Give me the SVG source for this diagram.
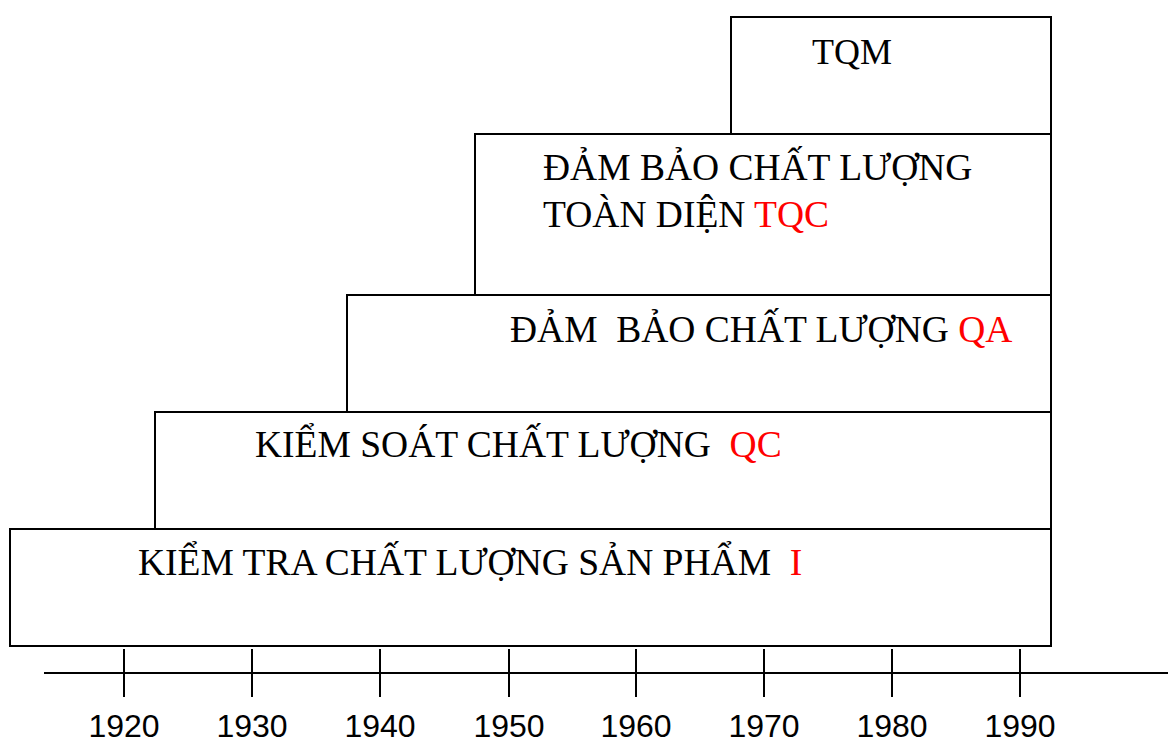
<svg xmlns="http://www.w3.org/2000/svg" width="1168" height="742" viewBox="0 0 1168 742">
  <style>
    .box { fill: #ffffff; stroke: #000000; stroke-width: 2; }
    .lbl { font-family: "Liberation Serif", "Times New Roman", serif; font-size: 37.5px; fill: #000000; }
    .red { fill: #ff0000; }
    .axis { stroke: #000000; stroke-width: 2; fill: none; }
    .year { font-family: "Liberation Sans", Arial, sans-serif; font-size: 32px; fill: #000000; text-anchor: middle; }
  </style>
  <rect width="1168" height="742" fill="#ffffff"/>

  <!-- stacked stages, oldest at the bottom -->
  <g id="stage-tqm">
    <rect class="box" x="731" y="17" width="320" height="117"/>
    <text class="lbl" x="812" y="64" style="font-size:36px">TQM</text>
  </g>
  <g id="stage-tqc">
    <rect class="box" x="475" y="134" width="576" height="161"/>
    <text class="lbl" x="543" y="180">ĐẢM BẢO CHẤT LƯỢNG</text>
    <text class="lbl" x="543" y="227">TOÀN DIỆN <tspan class="red">TQC</tspan></text>
  </g>
  <g id="stage-qa">
    <rect class="box" x="347" y="295" width="704" height="117"/>
    <text class="lbl" x="510" y="342" xml:space="preserve">ĐẢM  BẢO CHẤT LƯỢNG <tspan class="red">QA</tspan></text>
  </g>
  <g id="stage-qc">
    <rect class="box" x="155" y="412" width="896" height="117"/>
    <text class="lbl" x="255" y="457" xml:space="preserve">KIỂM SOÁT CHẤT LƯỢNG  <tspan class="red">QC</tspan></text>
  </g>
  <g id="stage-i">
    <rect class="box" x="10" y="529" width="1041" height="117"/>
    <text class="lbl" x="138" y="575" xml:space="preserve">KIỂM TRA CHẤT LƯỢNG SẢN PHẨM  <tspan class="red">I</tspan></text>
  </g>

  <!-- time axis -->
  <g id="axis">
    <line class="axis" x1="44" y1="673" x2="1168" y2="673"/>
    <line class="axis" x1="124" y1="649" x2="124" y2="697"/>
    <line class="axis" x1="252" y1="649" x2="252" y2="697"/>
    <line class="axis" x1="380" y1="649" x2="380" y2="697"/>
    <line class="axis" x1="509" y1="649" x2="509" y2="697"/>
    <line class="axis" x1="636" y1="649" x2="636" y2="697"/>
    <line class="axis" x1="764" y1="649" x2="764" y2="697"/>
    <line class="axis" x1="892" y1="649" x2="892" y2="697"/>
    <line class="axis" x1="1020" y1="649" x2="1020" y2="697"/>
    <text class="year" x="124" y="737">1920</text>
    <text class="year" x="252" y="737">1930</text>
    <text class="year" x="380" y="737">1940</text>
    <text class="year" x="509" y="737">1950</text>
    <text class="year" x="636" y="737">1960</text>
    <text class="year" x="764" y="737">1970</text>
    <text class="year" x="892" y="737">1980</text>
    <text class="year" x="1020" y="737">1990</text>
  </g>
</svg>
